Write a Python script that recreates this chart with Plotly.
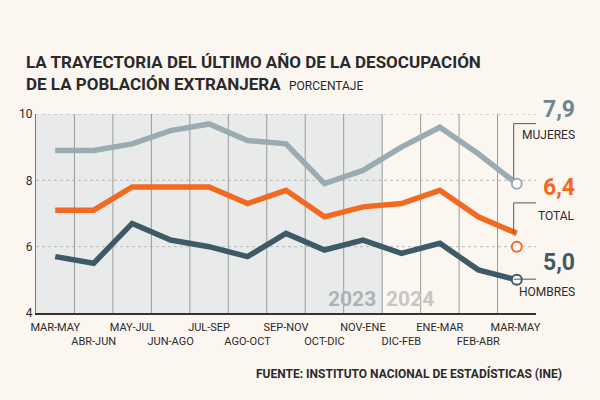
import plotly.graph_objects as go

categories = ["MAR-MAY", "ABR-JUN", "MAY-JUL", "JUN-AGO", "JUL-SEP", "AGO-OCT",
              "SEP-NOV", "OCT-DIC", "NOV-ENE", "DIC-FEB", "ENE-MAR", "FEB-ABR", "MAR-MAY "]
mujeres = [8.9, 8.9, 9.1, 9.5, 9.7, 9.2, 9.1, 7.9, 8.3, 9.0, 9.6, 8.8, 7.9]
total = [7.1, 7.1, 7.8, 7.8, 7.8, 7.3, 7.7, 6.9, 7.2, 7.3, 7.7, 6.9, 6.4]
hombres = [5.7, 5.5, 6.7, 6.2, 6.0, 5.7, 6.4, 5.9, 6.2, 5.8, 6.1, 5.3, 5.0]
total_marker = 6.0  # end circle of TOTAL as drawn in the original
y_ticks = [4, 6, 8, 10]
year_labels = ["2023", "2024"]

BG = "#fcf6f1"
C_M = "#9aabb1"
C_T = "#f26a21"
C_H = "#3e5a66"
FONT = "Roboto, sans-serif"

# plot area in pixels (for paper-coordinate conversions)
PL, PR, PT, PB = 36, 536, 114, 313
def px(x):
    return (x - PL) / (PR - PL)
def py(y):
    return (PB - y) / (PB - PT)

n = len(categories)
xs = list(range(n))

fig = go.Figure()

fig.add_shape(type="rect", x0=-0.5, x1=8.5, y0=4, y1=10, xref="x", yref="y",
              fillcolor="#e9ebeb", line_width=0, layer="below")
for yv in [6, 8, 10]:
    fig.add_shape(type="line", x0=-0.5, x1=12.5, y0=yv, y1=yv, xref="x", yref="y",
                  line=dict(color="#b9b9b9", width=1, dash="dot"), layer="below")
for i in range(n - 1):
    fig.add_shape(type="line", x0=i + 0.5, x1=i + 0.5, y0=4, y1=10, xref="x", yref="y",
                  line=dict(color="#9a9a9a", width=1), layer="below")

for vals, col in [(mujeres, C_M), (total, C_T), (hombres, C_H)]:
    fig.add_trace(go.Scatter(x=xs, y=vals, mode="lines",
                             line=dict(color=col, width=5.5), hoverinfo="skip"))

for yv, col in [(mujeres[-1], C_M), (total_marker, C_T), (hombres[-1], C_H)]:
    fig.add_trace(go.Scatter(x=[xs[-1]], y=[yv], mode="markers",
                             marker=dict(size=10, color="#ffffff", line=dict(color=col, width=2)),
                             hoverinfo="skip", cliponaxis=False))

LC = "#555555"
for ybar in [9.71, 7.32, 5.02]:
    fig.add_shape(type="line", xref="x", yref="y", x0=11.92, x1=13.6, y0=ybar, y1=ybar,
                  line=dict(color=LC, width=1))
fig.add_shape(type="line", xref="x", yref="y", x0=11.92, x1=11.92, y0=9.71, y1=mujeres[-1] + 0.15,
              line=dict(color=LC, width=1))
fig.add_shape(type="line", xref="x", yref="y", x0=11.92, x1=11.92, y0=7.32, y1=total[-1],
              line=dict(color=LC, width=1))

def fmt(v):
    return f"{v:.1f}".replace(".", ",")

for val, col, ynum, name, yname in [
    (mujeres[-1], "#6e8693", 110, "MUJERES", 135),
    (total[-1], C_T, 187, "TOTAL", 216),
    (hombres[-1], C_H, 262, "HOMBRES", 292),
]:
    fig.add_annotation(x=px(577), xref="paper", y=py(ynum), yref="paper", text=f"<b>{fmt(val)}</b>",
                       showarrow=False, xanchor="right", yanchor="middle",
                       font=dict(family=FONT, size=23, color=col))
    fig.add_annotation(x=px(577), xref="paper", y=py(yname), yref="paper", text=name,
                       showarrow=False, xanchor="right", yanchor="middle",
                       font=dict(family=FONT, size=12, color="#2b2b2b"))

fig.add_annotation(x=8.5, xref="x", y=4.0, yref="y", text=f"<b>{year_labels[0]}</b>",
                   showarrow=False, xanchor="right", yanchor="bottom", xshift=-4,
                   font=dict(family=FONT, size=21, color="#a9b3b8"))
fig.add_annotation(x=8.5, xref="x", y=4.0, yref="y", text=f"<b>{year_labels[1]}</b>",
                   showarrow=False, xanchor="left", yanchor="bottom", xshift=2,
                   font=dict(family=FONT, size=21, color="#c8c6c3"))

fig.add_annotation(x=px(564), xref="paper", y=py(373), yref="paper",
                   text="FUENTE: INSTITUTO NACIONAL DE ESTADÍSTICAS (INE)",
                   showarrow=False, xanchor="right", yanchor="middle",
                   font=dict(family=FONT, size=12, color="#2b2b2b", weight="bold"))

ticktext = [c if i % 2 == 0 else "<br>" + c for i, c in enumerate(categories)]

fig.update_layout(
    width=600, height=400,
    margin=dict(l=PL, r=600 - PR, t=PT, b=400 - PB),
    paper_bgcolor=BG, plot_bgcolor=BG,
    showlegend=False,
    title=dict(
        text="<b>LA TRAYECTORIA DEL ÚLTIMO AÑO DE LA DESOCUPACIÓN<br>DE LA POBLACIÓN EXTRANJERA</b>"
             "  <span style='font-size:12px'>PORCENTAJE</span>",
        x=26 / 600, xanchor="left", xref="container",
        y=1 - 68 / 400, yanchor="top", yref="container",
        font=dict(family=FONT, size=17, color="#2a2a2a"),
    ),
    xaxis=dict(range=[-0.5, 12.5], tickmode="array", tickvals=xs, ticktext=ticktext, tickangle=0,
               showgrid=False, zeroline=False, showline=True, linecolor="#333333", linewidth=1.5,
               ticks="", ticklabelstandoff=3,
               tickfont=dict(family=FONT, size=11, color="#2b2b2b"), fixedrange=True),
    yaxis=dict(range=[4, 10], tickmode="array", tickvals=y_ticks, showgrid=False, zeroline=False,
               showline=True, linecolor="#777777", linewidth=1, ticks="",
               tickfont=dict(family=FONT, size=12, color="#2b2b2b"), fixedrange=True),
)

fig.write_html("out.html")
